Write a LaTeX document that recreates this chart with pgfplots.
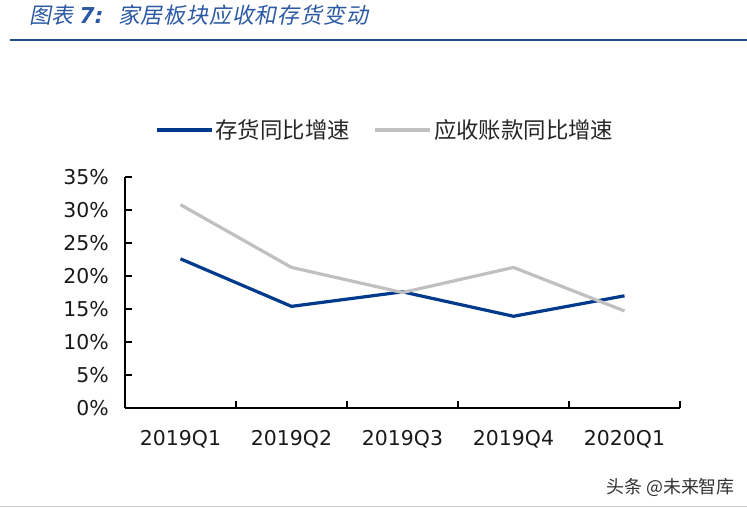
\documentclass[border=0pt]{standalone}
\usepackage{pgfplots}
\pgfplotsset{compat=1.18}
\usepackage{fontspec}
\setmainfont{DejaVu Sans}
\newfontfamily\cjk{Noto Sans CJK SC}
\newfontfamily\cjkit[FakeSlant=0.2]{Noto Sans CJK SC}
\newfontfamily\numit[FakeSlant=0.2]{DejaVu Sans}
\definecolor{invblue}{HTML}{003A8C}
\definecolor{argray}{HTML}{C0C0C0}
\definecolor{titleblue}{HTML}{2B59A3}
\definecolor{rulecol}{HTML}{1F4E8F}
\begin{document}
\begin{tikzpicture}[x=1bp,y=1bp]
\useasboundingbox (0,0) rectangle (747,-508);
\node[anchor=west, text=titleblue, inner sep=0] at (29,-15) {\cjkit\fontsize{22}{24}\selectfont 图表 {\numit\bfseries 7:}};
\node[anchor=west, text=titleblue, inner sep=0] at (118,-15) {\cjkit\fontsize{22}{24}\selectfont\addfontfeature{LetterSpace=4}家居板块应收和存货变动};
\draw[rulecol, line width=2bp] (10,-40) -- (747,-40);
\draw[black!20, line width=1bp] (0,-506) -- (747,-506);
\node[anchor=east, text=black!80, inner sep=0] at (735,-487) {\cjk\fontsize{18}{20}\selectfont 头条 @未来智库};
\begin{axis}[
  at={(125bp,-408bp)}, anchor=south west,
  scale only axis, width=555bp, height=231bp,
  xmin=-0.5, xmax=4.5, ymin=0, ymax=35,
  axis x line=bottom, axis y line=left,
  axis line style={line width=1.5bp, -},
  tick align=inside,
  major tick length=7bp,
  tick style={black, line width=1.2bp},
  xtick={-0.5,0.5,...,4.5},
  xticklabels={2019Q1,2019Q2,2019Q3,2019Q4,2020Q1},
  x tick label as interval,
  ytick={0,5,...,35},
  yticklabel={\pgfmathprintnumber{\tick}\%},
  /pgf/number format/assume math mode=true,
  ticklabel style={font=\fontsize{20.5}{22}\selectfont, text=black!90},
  yticklabel style={inner sep=0, xshift=-16bp},
  xticklabel style={inner sep=0, yshift=-22bp},
  legend style={at={(rel axis cs:0.054,1.2035)}, anchor=west, draw=none, fill=none,
    inner sep=0, font=\cjk\fontsize{22.5}{24}\selectfont, text=black!85,
    /tikz/every even column/.append style={column sep=22bp}},
  legend columns=2,
  legend image code/.code={\draw[#1] (0bp,0bp) -- (55bp,0bp);},
  clip=false,
]
\addplot[invblue, line width=3.2bp] coordinates {(0,22.6) (1,15.4) (2,17.6) (3,13.9) (4,17.0)};
\addlegendentry{存货同比增速}
\addplot[argray, line width=3.2bp] coordinates {(0,30.8) (1,21.3) (2,17.5) (3,21.3) (4,14.7)};
\addlegendentry{应收账款同比增速}
\end{axis}
\end{tikzpicture}
\end{document}
